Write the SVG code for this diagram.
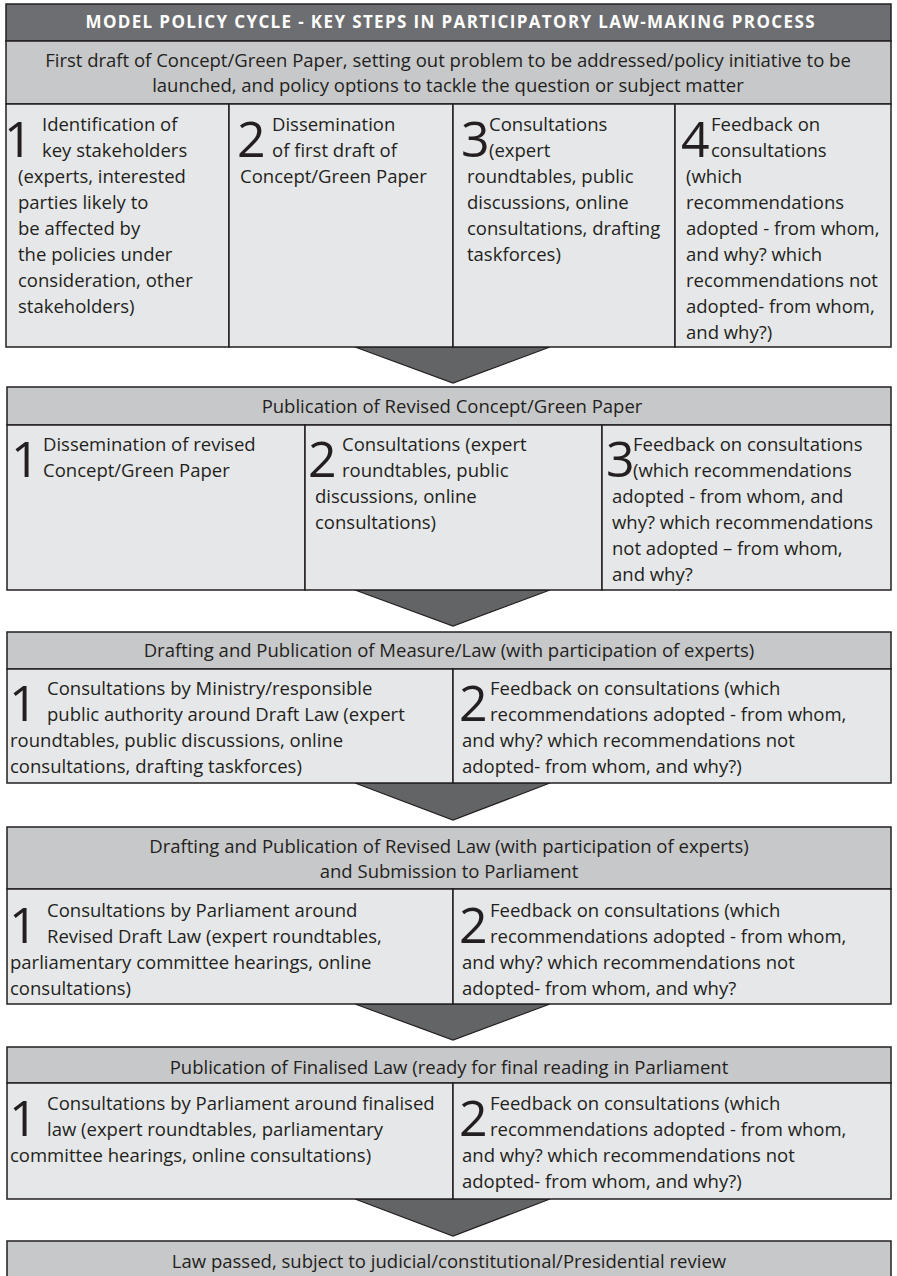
<svg xmlns="http://www.w3.org/2000/svg" width="897" height="1276" viewBox="0 0 897 1276">
<style>
.bar{fill:#6d6e71;stroke:#231f20;stroke-width:1.5}
.hd{fill:#c7c8ca;stroke:#231f20;stroke-width:1.5}
.cell{fill:#e6e7e8;stroke:#231f20;stroke-width:1.5}
.arr{fill:#636466;stroke:#231f20;stroke-width:1.2}
text{font-family:"Open Sans","Noto Sans","Liberation Sans",sans-serif;fill:#231f20}
.t{font-size:18.5px}
.h{font-size:18.5px;text-anchor:middle}
.n{font-size:50px}
.title{font-size:17px;font-weight:bold;fill:#ffffff;text-anchor:middle}
</style>
<rect width="897" height="1276" fill="#ffffff"/>
<g id="connectors">
<polygon class="arr" points="355,347 550,347 453,383"/>
<polygon class="arr" points="355,590 550,590 453,626"/>
<polygon class="arr" points="355,783 550,783 453,820"/>
<polygon class="arr" points="355,1004 550,1004 453,1040"/>
<polygon class="arr" points="355,1199 550,1199 453,1236"/>
</g>
<g id="title">
<rect class="bar" x="6" y="4" width="885" height="37"/>
<text class="title" x="450" y="28" textLength="729" lengthAdjust="spacing">MODEL POLICY CYCLE - KEY STEPS IN PARTICIPATORY LAW-MAKING PROCESS</text>
</g>
<g id="stage1">
<rect class="hd" x="6" y="41" width="885" height="63"/>
<text class="h" x="448" y="67">First draft of Concept/Green Paper, setting out problem to be addressed/policy initiative to be</text>
<text class="h" x="448" y="92">launched, and policy options to tackle the question or subject matter</text>
</g>
<g id="s1-step1">
<rect class="cell" x="6" y="104" width="223" height="243"/>
<text class="n" x="4" y="157">1</text>
<text class="t" x="42" y="131">Identification of</text>
<text class="t" x="42" y="157">key stakeholders</text>
<text class="t" x="18" y="183">(experts, interested</text>
<text class="t" x="18" y="209">parties likely to</text>
<text class="t" x="18" y="235">be affected by</text>
<text class="t" x="18" y="261">the policies under</text>
<text class="t" x="18" y="287">consideration, other</text>
<text class="t" x="18" y="313">stakeholders)</text>
</g>
<g id="s1-step2">
<rect class="cell" x="229" y="104" width="224" height="243"/>
<text class="n" x="237" y="157">2</text>
<text class="t" x="272" y="131">Dissemination</text>
<text class="t" x="272" y="157">of first draft of</text>
<text class="t" x="240" y="183">Concept/Green Paper</text>
</g>
<g id="s1-step3">
<rect class="cell" x="453" y="104" width="222" height="243"/>
<text class="n" x="461" y="157">3</text>
<text class="t" x="489" y="131">Consultations</text>
<text class="t" x="489" y="157">(expert</text>
<text class="t" x="467" y="183">roundtables, public</text>
<text class="t" x="467" y="209">discussions, online</text>
<text class="t" x="467" y="235">consultations, drafting</text>
<text class="t" x="467" y="261">taskforces)</text>
</g>
<g id="s1-step4">
<rect class="cell" x="675" y="104" width="216" height="243"/>
<text class="n" x="681" y="157">4</text>
<text class="t" x="711" y="131">Feedback on</text>
<text class="t" x="711" y="157">consultations</text>
<text class="t" x="686" y="183">(which</text>
<text class="t" x="686" y="209">recommendations</text>
<text class="t" x="686" y="235">adopted - from whom,</text>
<text class="t" x="686" y="261">and why? which</text>
<text class="t" x="686" y="287">recommendations not</text>
<text class="t" x="686" y="313">adopted- from whom,</text>
<text class="t" x="686" y="339">and why?)</text>
</g>
<g id="stage2">
<rect class="hd" x="7" y="387" width="884" height="38"/>
<text class="h" x="452" y="413">Publication of Revised Concept/Green Paper</text>
</g>
<g id="s2-step1">
<rect class="cell" x="7" y="425" width="298" height="165"/>
<text class="n" x="11" y="477">1</text>
<text class="t" x="43" y="451">Dissemination of revised</text>
<text class="t" x="43" y="477">Concept/Green Paper</text>
</g>
<g id="s2-step2">
<rect class="cell" x="305" y="425" width="297" height="165"/>
<text class="n" x="308" y="477">2</text>
<text class="t" x="342" y="451">Consultations  (expert</text>
<text class="t" x="342" y="477">roundtables, public</text>
<text class="t" x="315" y="503">discussions, online</text>
<text class="t" x="315" y="529">consultations)</text>
</g>
<g id="s2-step3">
<rect class="cell" x="602" y="425" width="289" height="165"/>
<text class="n" x="606" y="477">3</text>
<text class="t" x="633" y="451">Feedback on consultations</text>
<text class="t" x="633" y="477">(which recommendations</text>
<text class="t" x="612" y="503">adopted - from whom, and</text>
<text class="t" x="612" y="529">why? which recommendations</text>
<text class="t" x="612" y="555">not adopted – from whom,</text>
<text class="t" x="612" y="581">and why?</text>
</g>
<g id="stage3">
<rect class="hd" x="7" y="632" width="884" height="37"/>
<text class="h" x="449" y="657">Drafting and Publication of Measure/Law (with participation of experts)</text>
</g>
<g id="s3-step1">
<rect class="cell" x="7" y="669" width="446" height="114"/>
<text class="n" x="9" y="721">1</text>
<text class="t" x="47" y="695">Consultations by Ministry/responsible</text>
<text class="t" x="47" y="721">public authority around Draft Law (expert</text>
<text class="t" x="10" y="747">roundtables, public discussions, online</text>
<text class="t" x="10" y="773">consultations, drafting taskforces)</text>
</g>
<g id="s3-step2">
<rect class="cell" x="453" y="669" width="438" height="114"/>
<text class="n" x="459" y="721">2</text>
<text class="t" x="490" y="695">Feedback on consultations (which</text>
<text class="t" x="490" y="721">recommendations adopted - from whom,</text>
<text class="t" x="462" y="747">and why? which recommendations not</text>
<text class="t" x="462" y="773">adopted- from whom, and why?)</text>
</g>
<g id="stage4">
<rect class="hd" x="7" y="827" width="884" height="62"/>
<text class="h" x="449" y="853">Drafting and Publication of Revised Law (with participation of experts)</text>
<text class="h" x="449" y="878">and Submission to Parliament</text>
</g>
<g id="s4-step1">
<rect class="cell" x="7" y="889" width="446" height="115"/>
<text class="n" x="9" y="943">1</text>
<text class="t" x="47" y="917">Consultations by Parliament around</text>
<text class="t" x="47" y="943">Revised Draft Law (expert roundtables,</text>
<text class="t" x="10" y="969">parliamentary committee hearings, online</text>
<text class="t" x="10" y="995">consultations)</text>
</g>
<g id="s4-step2">
<rect class="cell" x="453" y="889" width="438" height="115"/>
<text class="n" x="459" y="943">2</text>
<text class="t" x="490" y="917">Feedback on consultations (which</text>
<text class="t" x="490" y="943">recommendations adopted - from whom,</text>
<text class="t" x="462" y="969">and why? which recommendations not</text>
<text class="t" x="462" y="995">adopted- from whom, and why?</text>
</g>
<g id="stage5">
<rect class="hd" x="7" y="1047" width="884" height="36"/>
<text class="h" x="449" y="1074">Publication of Finalised Law (ready for final reading in Parliament</text>
</g>
<g id="s5-step1">
<rect class="cell" x="7" y="1083" width="446" height="116"/>
<text class="n" x="9" y="1136">1</text>
<text class="t" x="47" y="1110">Consultations by Parliament around finalised</text>
<text class="t" x="47" y="1136">law (expert roundtables, parliamentary</text>
<text class="t" x="10" y="1162">committee hearings, online consultations)</text>
</g>
<g id="s5-step2">
<rect class="cell" x="453" y="1083" width="438" height="116"/>
<text class="n" x="459" y="1136">2</text>
<text class="t" x="490" y="1110">Feedback on consultations (which</text>
<text class="t" x="490" y="1136">recommendations adopted - from whom,</text>
<text class="t" x="462" y="1162">and why? which recommendations not</text>
<text class="t" x="462" y="1188">adopted- from whom, and why?)</text>
</g>
<g id="stage6">
<rect class="hd" x="7" y="1241" width="884" height="45"/>
<text class="h" x="449" y="1268">Law passed, subject to judicial/constitutional/Presidential review</text>
</g>
</svg>
